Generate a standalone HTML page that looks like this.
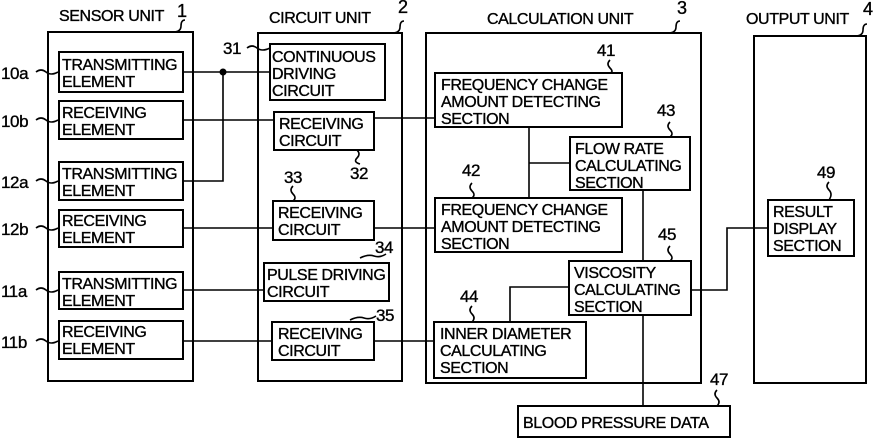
<!DOCTYPE html>
<html><head><meta charset="utf-8"><style>
html,body{margin:0;padding:0;background:#fff;}
svg{display:block;}
text{font-family:"Liberation Sans",Arial,sans-serif;font-size:16px;fill:#000;stroke:#000;stroke-width:0.35;letter-spacing:-0.4px;}
</style></head><body>
<svg width="875" height="439" viewBox="0 0 875 439" xmlns="http://www.w3.org/2000/svg">
<g fill="none" stroke="#000" stroke-width="2">
<rect x="48" y="32" width="145" height="349"/>
<rect x="258" y="33" width="144" height="348"/>
<rect x="426" y="33" width="275" height="350"/>
<rect x="754" y="36" width="112" height="347"/>
<rect x="59" y="52" width="124" height="40"/>
<rect x="59" y="101" width="124" height="38"/>
<rect x="59" y="162" width="124" height="38"/>
<rect x="59" y="210" width="124" height="37"/>
<rect x="59" y="272" width="124" height="37"/>
<rect x="59" y="321" width="124" height="38"/>
<rect x="270" y="44" width="115" height="56"/>
<rect x="274" y="112" width="100" height="38"/>
<rect x="273" y="201" width="101" height="39"/>
<rect x="264" y="263" width="125" height="38"/>
<rect x="272" y="322" width="102" height="38"/>
<rect x="435" y="73" width="187" height="54"/>
<rect x="570" y="137" width="120" height="53"/>
<rect x="435" y="198" width="187" height="54"/>
<rect x="569" y="261" width="122" height="54"/>
<rect x="434" y="322" width="152" height="56"/>
<rect x="518" y="406" width="212" height="31"/>
<rect x="768" y="200" width="86" height="56"/>
</g>
<g fill="none" stroke="#000" stroke-width="1.6">
<line x1="183" y1="72" x2="270" y2="72"/>
<polyline points="183,181 223,181 223,72"/>
<line x1="183" y1="120" x2="274" y2="120"/>
<line x1="374" y1="118" x2="435" y2="118"/>
<line x1="183" y1="228" x2="273" y2="228"/>
<line x1="374" y1="228" x2="435" y2="228"/>
<line x1="183" y1="290" x2="264" y2="290"/>
<line x1="183" y1="341" x2="272" y2="341"/>
<line x1="374" y1="341" x2="434" y2="341"/>
<line x1="529" y1="127" x2="529" y2="198"/>
<line x1="529" y1="163" x2="570" y2="163"/>
<line x1="643" y1="190" x2="643" y2="261"/>
<line x1="643" y1="315" x2="643" y2="406"/>
<polyline points="510,322 510,287 569,287"/>
<polyline points="691,290 727,290 727,228 768,228"/>
<path d="M36,72 q5,-4 10,0 t12,0"/>
<path d="M36,120 q5,-4 10,0 t12,0"/>
<path d="M36,181 q5,-4 10,0 t12,0"/>
<path d="M36,228 q5,-4 10,0 t12,0"/>
<path d="M36,290 q5,-4 10,0 t12,0"/>
<path d="M36,341 q5,-4 10,0 t12,0"/>
<path d="M173,32 q8,0 8,-6 t4,-6"/>
<path d="M392,33 q8,0 8,-6 t4,-6"/>
<path d="M668,33 q8,0 8,-6 t4,-6"/>
<path d="M855,36 q8,0 8,-6 t4,-6"/>
<path d="M247,48 q5,-4 10,0 t13,0"/>
<path d="M357,150 q4,4 0,8 t3,6"/>
<path d="M293,186 q-4,4 0,8 t0,7"/>
<path d="M360,258 q8,-4 14,-2 t12,-2"/>
<path d="M350,320 q8,-4 14,-2 t12,-2"/>
<path d="M610,60 q-4,4 0,8 t0,5"/>
<path d="M670,122 q-4,4 0,8 t0,7"/>
<path d="M472,183 q-4,4 0,8 t0,7"/>
<path d="M670,246 q-4,4 0,8 t0,7"/>
<path d="M472,306 q-4,4 0,8 t0,8"/>
<path d="M717,390 q-4,4 0,8 t0,8"/>
<path d="M829,182 q-4,4 0,8 t0,10"/>
</g>
<circle cx="223" cy="72" r="3.5" fill="#000"/>
<text x="59" y="21">SENSOR UNIT</text>
<text x="177" y="17" style="font-size:18px">1</text>
<text x="269" y="23">CIRCUIT UNIT</text>
<text x="398" y="13" style="font-size:18px">2</text>
<text x="487" y="24">CALCULATION UNIT</text>
<text x="677" y="14" style="font-size:18px">3</text>
<text x="746" y="24">OUTPUT UNIT</text>
<text x="863" y="15" style="font-size:18px">4</text>
<g>
<text x="1" y="79" style="font-size:17px">10a</text>
<text x="1" y="127" style="font-size:17px">10b</text>
<text x="1" y="188" style="font-size:17px">12a</text>
<text x="1" y="235" style="font-size:17px">12b</text>
<text x="1" y="297" style="font-size:17px">11a</text>
<text x="1" y="348" style="font-size:17px">11b</text>
<text x="223" y="54" style="font-size:17px">31</text>
<text x="350" y="179" style="font-size:17px">32</text>
<text x="284" y="183" style="font-size:17px">33</text>
<text x="375" y="253" style="font-size:17px">34</text>
<text x="376" y="321" style="font-size:17px">35</text>
<text x="597" y="56" style="font-size:17px">41</text>
<text x="462" y="176" style="font-size:17px">42</text>
<text x="657" y="116" style="font-size:17px">43</text>
<text x="460" y="302" style="font-size:17px">44</text>
<text x="658" y="240" style="font-size:17px">45</text>
<text x="710" y="385" style="font-size:17px">47</text>
<text x="817" y="178" style="font-size:17px">49</text>
</g>
<text x="62" y="70">TRANSMITTING</text><text x="62" y="87">ELEMENT</text>
<text x="62" y="118">RECEIVING</text><text x="62" y="135">ELEMENT</text>
<text x="62" y="179">TRANSMITTING</text><text x="62" y="196">ELEMENT</text>
<text x="62" y="226">RECEIVING</text><text x="62" y="243">ELEMENT</text>
<text x="62" y="289">TRANSMITTING</text><text x="62" y="306">ELEMENT</text>
<text x="62" y="337">RECEIVING</text><text x="62" y="354">ELEMENT</text>
<text x="272" y="62">CONTINUOUS</text><text x="272" y="79">DRIVING</text><text x="272" y="96">CIRCUIT</text>
<text x="279" y="129">RECEIVING</text><text x="279" y="146">CIRCUIT</text>
<text x="278" y="218">RECEIVING</text><text x="278" y="235">CIRCUIT</text>
<text x="267" y="280">PULSE DRIVING</text><text x="267" y="297">CIRCUIT</text>
<text x="278" y="339">RECEIVING</text><text x="278" y="356">CIRCUIT</text>
<text x="441" y="90">FREQUENCY CHANGE</text><text x="441" y="107">AMOUNT DETECTING</text><text x="441" y="124">SECTION</text>
<text x="575" y="154">FLOW RATE</text><text x="575" y="171">CALCULATING</text><text x="575" y="188">SECTION</text>
<text x="441" y="215">FREQUENCY CHANGE</text><text x="441" y="232">AMOUNT DETECTING</text><text x="441" y="249">SECTION</text>
<text x="574" y="278">VISCOSITY</text><text x="574" y="295">CALCULATING</text><text x="574" y="312">SECTION</text>
<text x="440" y="339">INNER DIAMETER</text><text x="440" y="356">CALCULATING</text><text x="440" y="373">SECTION</text>
<text x="523" y="428">BLOOD PRESSURE DATA</text>
<text x="773" y="217">RESULT</text><text x="773" y="234">DISPLAY</text><text x="773" y="251">SECTION</text>
</svg>
</body></html>
